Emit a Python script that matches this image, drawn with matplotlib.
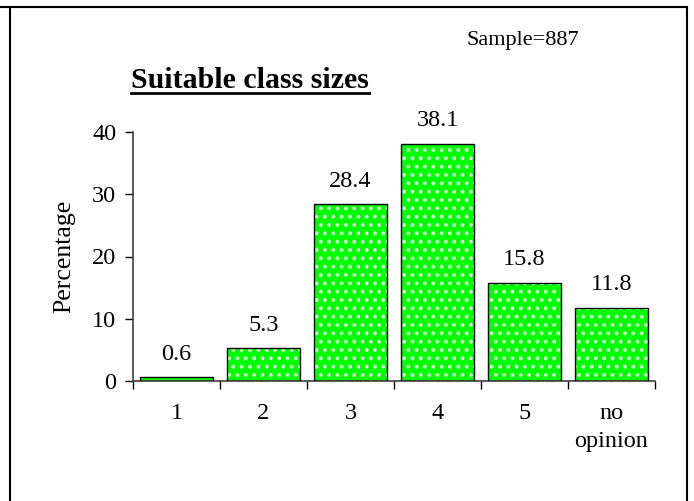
import matplotlib
matplotlib.use("Agg")
import matplotlib.pyplot as plt
from matplotlib.lines import Line2D

categories = ["1", "2", "3", "4", "5", "no\nopinion"]
values = [0.6, 5.3, 28.4, 38.1, 15.8, 11.8]
yticks = [0, 10, 20, 30, 40]

plt.rcParams['font.family'] = ['Liberation Serif', 'DejaVu Serif']
plt.rcParams['hatch.linewidth'] = 1.6

FS = 17.5

fig = plt.figure(figsize=(6.94, 5.01), dpi=100)
ax = fig.add_axes([133/694, 120/501, (655-133)/694, (381-132)/501])

x = list(range(len(categories)))
ax.bar(x, values, width=0.84, color='#00ff00', edgecolor='#c8ffc8', hatch='..', linewidth=0, zorder=2)
ax.bar(x, values, width=0.84, fill=False, edgecolor='black', linewidth=1.0, zorder=3)

for xi, v in zip(x, values):
    ax.annotate(f"{v:.1f}", (xi, v), xytext=(0, 9), textcoords='offset points',
                ha='center', va='bottom', fontsize=FS)

ax.set_xlim(-0.5, len(categories) - 0.5)
ax.set_ylim(0, 40)
ax.set_yticks(yticks)
ax.set_yticklabels([str(t) for t in yticks], fontsize=FS)
ax.set_xticks([i - 0.5 for i in range(len(categories) + 1)])
ax.set_xticklabels([])
ax.set_xticks(x, minor=True)
ax.set_xticklabels(categories, minor=True, fontsize=FS, linespacing=1.45)
ax.tick_params(axis='x', which='minor', length=0, pad=16)
ax.tick_params(axis='x', which='major', direction='out', length=6, width=1)
ax.tick_params(axis='y', direction='out', length=6, width=1, pad=6)
for s in ['top', 'right']:
    ax.spines[s].set_visible(False)
for s in ['left', 'bottom']:
    ax.spines[s].set_color('#404040')
    ax.spines[s].set_linewidth(1.2)
ax.set_ylabel("Percentage", fontsize=18.5, labelpad=12)

# title with underline
t = fig.text(250/694, 1 - 80/501, "Suitable class sizes", fontsize=21.5, fontweight='bold',
             ha='center', va='center')
fig.canvas.draw()
bb = t.get_window_extent()
yline = bb.y0 + 1
fig.add_artist(Line2D([bb.x0/694, bb.x1/694], [yline/501, yline/501], color='black', linewidth=2))

fig.text(523/694, 1 - 40/501, "Sample=887", fontsize=16, ha='center', va='center')

# outer frame (left, top, right)
fig.add_artist(Line2D([10/694, 10/694], [0, 1 - 7/501], color='black', linewidth=1.5))
fig.add_artist(Line2D([0, 687/694], [1 - 7/501, 1 - 7/501], color='black', linewidth=1.5))
fig.add_artist(Line2D([687/694, 687/694], [0, 1 - 7/501], color='black', linewidth=1.5))

fig.savefig("out.png", dpi=100)
